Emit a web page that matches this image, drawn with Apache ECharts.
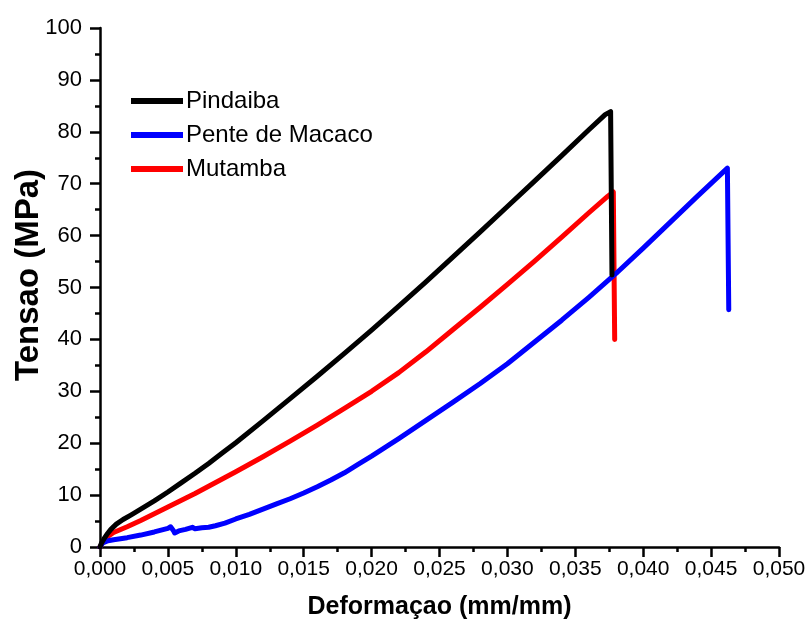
<!DOCTYPE html>
<html>
<head>
<meta charset="utf-8">
<script src="https://cdn.jsdelivr.net/npm/echarts@6/dist/echarts.min.js"></script>
<style>
  html, body { margin: 0; padding: 0; background: #fff; }
  #chart { width: 807px; height: 626px; }
</style>
</head>
<body>
<div id="chart"></div>
<script>
// strain (mm/mm) and stress (MPa)
const pindaibaStrain = [0, 0.0001, 0.0003, 0.0005, 0.0008, 0.0012, 0.0017, 0.0023, 0.003, 0.004, 0.005, 0.006, 0.007, 0.008, 0.009, 0.010, 0.012, 0.014, 0.016, 0.018, 0.020, 0.022, 0.024, 0.026, 0.028, 0.030, 0.032, 0.034, 0.036, 0.0372, 0.0376, 0.0377];
const pindaibaStress = [0, 0.7, 1.6, 2.4, 3.4, 4.4, 5.3, 6.2, 7.3, 8.9, 10.6, 12.4, 14.2, 16.1, 18.1, 20.1, 24.3, 28.6, 32.9, 37.3, 41.8, 46.4, 51.1, 55.9, 60.7, 65.6, 70.5, 75.4, 80.4, 83.3, 83.9, 52.4];

const penteStrain = [0, 0.0002, 0.0006, 0.001, 0.002, 0.003, 0.004, 0.005, 0.0052, 0.0054, 0.0055, 0.0058, 0.0063, 0.0068, 0.007, 0.0075, 0.008, 0.0085, 0.0092, 0.010, 0.011, 0.012, 0.013, 0.014, 0.015, 0.016, 0.017, 0.018, 0.019, 0.020, 0.021, 0.022, 0.024, 0.026, 0.028, 0.030, 0.032, 0.034, 0.036, 0.038, 0.040, 0.042, 0.044, 0.0462, 0.0463];
const penteStress = [0, 0.8, 1.2, 1.4, 1.8, 2.3, 2.9, 3.6, 3.9, 3.2, 2.7, 3.1, 3.4, 3.8, 3.5, 3.7, 3.8, 4.1, 4.6, 5.4, 6.3, 7.3, 8.3, 9.3, 10.4, 11.6, 12.9, 14.3, 15.9, 17.5, 19.2, 20.9, 24.4, 27.9, 31.5, 35.3, 39.5, 43.7, 48.1, 52.7, 57.6, 62.6, 67.6, 73.0, 45.7];

const mutambaStrain = [0, 0.0002, 0.0005, 0.001, 0.002, 0.003, 0.004, 0.005, 0.006, 0.007, 0.008, 0.010, 0.012, 0.014, 0.016, 0.018, 0.020, 0.022, 0.024, 0.026, 0.028, 0.030, 0.032, 0.034, 0.036, 0.0374, 0.0378, 0.0379];
const mutambaStress = [0, 0.9, 1.9, 2.8, 3.9, 5.1, 6.4, 7.7, 9.0, 10.3, 11.7, 14.5, 17.4, 20.4, 23.5, 26.7, 30.0, 33.6, 37.6, 41.9, 46.2, 50.6, 55.1, 59.7, 64.4, 67.6, 68.4, 40.0];

const seriesNames = ['Pindaiba', 'Pente de Macaco', 'Mutamba'];
const seriesColors = ['#000000', '#0000ff', '#ff0000'];

const pairs = (xs, ys) => xs.map((x, i) => [x, ys[i]]);
const seriesData = [
  pairs(pindaibaStrain, pindaibaStress),
  pairs(penteStrain, penteStress),
  pairs(mutambaStrain, mutambaStress)
];

const font = '"Liberation Sans", Arial, sans-serif';

const axisCommon = {
  axisLine: { show: true, onZero: false, lineStyle: { color: '#000', width: 2.5 } },
  axisTick: { show: true, inside: false, length: 10, lineStyle: { color: '#000', width: 2.5 } },
  minorTick: { show: true, splitNumber: 2, length: 5, lineStyle: { color: '#000', width: 2.5 } },
  splitLine: { show: false },
  nameTextStyle: { color: '#000', fontFamily: font, fontWeight: 'bold' }
};

const myChart = echarts.init(document.getElementById('chart'));

const option = {
  animation: false,
  backgroundColor: '#fff',
  grid: { left: 100, right: 28, top: 28, bottom: 79, containLabel: false, outerBoundsMode: 'none' },
  legend: {
    orient: 'vertical',
    left: 126,
    top: 84,
    itemWidth: 52,
    itemHeight: 6,
    itemGap: 10,
    icon: 'rect',
    data: seriesNames,
    textStyle: { color: '#000', fontSize: 24, fontFamily: font, padding: [0, 0, 0, -2] }
  },
  // y-axis title, drawn as text so it can sit where the reference has it
  graphic: [{
    type: 'text',
    x: 29,
    y: 275,
    rotation: Math.PI / 2,
    style: {
      text: 'Tensao (MPa)',
      fill: '#000',
      font: 'bold 33px "Liberation Sans", Arial, sans-serif',
      align: 'center',
      verticalAlign: 'middle'
    }
  }],
  xAxis: {
    ...axisCommon,
    type: 'value',
    min: 0,
    max: 0.05,
    interval: 0.005,
    name: 'Deformaçao (mm/mm)',
    nameLocation: 'middle',
    nameGap: 48,
    nameTextStyle: { ...axisCommon.nameTextStyle, fontSize: 25 },
    axisLabel: {
      color: '#000', fontSize: 21, fontFamily: font, margin: 12,
      formatter: v => v.toFixed(3).replace('.', ',')
    }
  },
  yAxis: {
    ...axisCommon,
    type: 'value',
    min: 0,
    max: 100,
    interval: 10,
    axisLabel: { color: '#000', fontSize: 22, fontFamily: font, margin: 18 }
  },
  series: seriesNames.map((name, i) => ({
    name,
    type: 'line',
    data: seriesData[i],
    showSymbol: false,
    symbol: 'none',
    color: seriesColors[i],
    lineStyle: { color: seriesColors[i], width: 5, join: 'round', cap: 'round' },
    z: 3 - i
  }))
};

myChart.setOption(option);
window.addEventListener('resize', () => myChart.resize());
</script>
</body>
</html>
